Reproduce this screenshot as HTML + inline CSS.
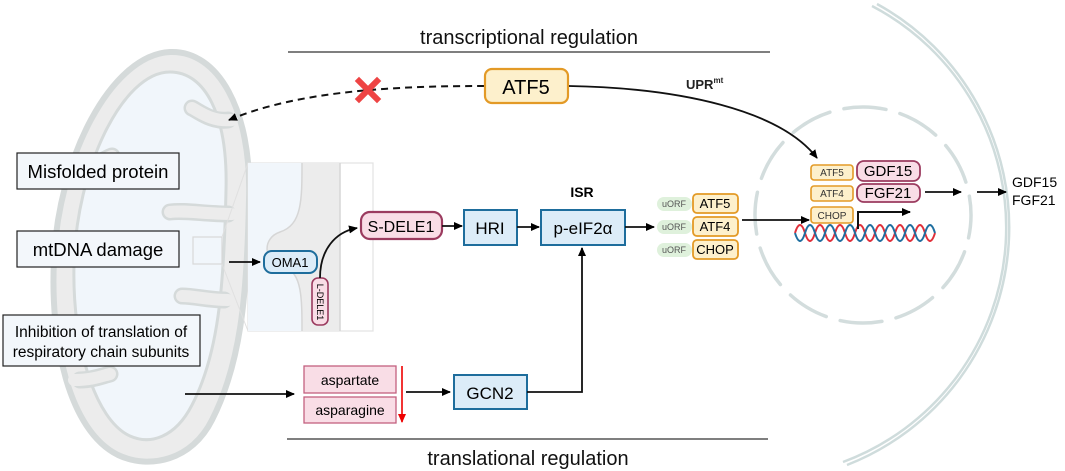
<!DOCTYPE html>
<html><head><meta charset="utf-8"><style>
html,body{margin:0;padding:0;background:#fff;}
svg{display:block;font-family:"Liberation Sans",Arial,sans-serif;}
</style></head><body>
<svg width="1065" height="471" viewBox="0 0 1065 471" xmlns="http://www.w3.org/2000/svg">
<defs>
<marker id="ah" markerWidth="10" markerHeight="10" refX="8" refY="5" orient="auto" markerUnits="userSpaceOnUse"><path d="M0,1 L9,5 L0,9 Z" fill="#000"/></marker>
<marker id="ahr" markerWidth="10" markerHeight="10" refX="8" refY="5" orient="auto" markerUnits="userSpaceOnUse"><path d="M0,1 L9,5 L0,9 Z" fill="#e00"/></marker>
</defs>

<path d="M877,4 A255,255 0 0 1 847,465" fill="none" stroke="#cfdcdc" stroke-width="2.5"/>
<path d="M872,6 A250,250 0 0 1 843,462" fill="none" stroke="#cfdcdc" stroke-width="2.5"/>
<circle cx="863" cy="215" r="108" fill="none" stroke="#d3dddd" stroke-width="3.5" stroke-dasharray="42,14.5" stroke-linecap="round" transform="rotate(-100 863 215)"/>

<!-- mitochondrion -->
<path d="M170,52 C218,50 252,110 249,200 C247,300 240,365 212,420 C192,460 150,470 118,455 C68,430 50,340 54,260 C58,160 110,55 170,52 Z" fill="#ececec" stroke="#d5dada" stroke-width="6"/>
<path d="M170,72 C205,72 228,115 226,190 C224,290 218,355 192,405 C175,438 150,445 130,436 C95,420 72,345 74,265 C76,170 122,72 170,72 Z" fill="#f1f6fb" stroke="#d5dada" stroke-width="3"/>
<g fill="none" stroke-linecap="round">
<g stroke="#d5dada" stroke-width="17">
<path d="M228,120 C212,122 200,112 192,108"/>
<path d="M228,214 C205,214 185,210 170,212"/>
<path d="M224,300 C208,300 195,296 182,296"/>
<path d="M80,380 C92,380 102,376 110,374"/>
<path d="M88,165 C98,165 106,158 112,156"/>
</g>
<g stroke="#ececec" stroke-width="12">
<path d="M232,120 C212,122 200,112 192,108"/>
<path d="M232,214 C205,214 185,210 170,212"/>
<path d="M228,300 C208,300 195,296 182,296"/>
<path d="M74,380 C92,380 102,376 110,374"/>
<path d="M82,165 C98,165 106,158 112,156"/>
</g>
</g>
<rect x="193" y="237" width="29" height="27" fill="none" stroke="#d8d8d8" stroke-width="1.2"/>
<line x1="222" y1="237" x2="248" y2="163" stroke="#e0e0e0" stroke-width="1"/>
<line x1="222" y1="264" x2="248" y2="331" stroke="#e0e0e0" stroke-width="1"/>
<!-- zoom panel -->
<rect x="248" y="163" width="125" height="168" fill="#fff" stroke="#e2e2e2" stroke-width="1.2"/>
<path d="M248,163 L302,163 C302,200 302,225 280,232 C262,238 262,262 285,268 C302,272 302,300 302,331 L248,331 Z" fill="#f1f6fb"/>
<path d="M302,163 C302,200 302,225 280,232 C262,238 262,262 285,268 C302,272 302,300 302,331 L340,331 L340,163 Z" fill="#ececec"/>
<path d="M302,163 C302,200 302,225 280,232 C262,238 262,262 285,268 C302,272 302,300 302,331" fill="none" stroke="#d6d6d6" stroke-width="1.5"/>
<line x1="340" y1="163" x2="340" y2="331" stroke="#d6d6d6" stroke-width="1.5"/>

<text x="529" y="44" font-size="20" text-anchor="middle" fill="#111">transcriptional regulation</text>
<line x1="288" y1="52" x2="770" y2="52" stroke="#333" stroke-width="1.3"/>
<line x1="287" y1="439" x2="768" y2="439" stroke="#333" stroke-width="1.3"/>
<text x="528" y="465" font-size="20" text-anchor="middle" fill="#111">translational regulation</text>

<path d="M484,86 C400,86 300,90 229,120" fill="none" stroke="#111" stroke-width="2" stroke-dasharray="7,5" marker-end="url(#ah)"/>
<g stroke="#ee4444" stroke-width="6" stroke-linecap="square"><line x1="359" y1="81" x2="377" y2="99"/><line x1="377" y1="81" x2="359" y2="99"/></g>
<rect x="485" y="69" width="83" height="34" rx="7" fill="#fdf0cc" stroke="#e39a26" stroke-width="2.2"/>
<text x="526" y="94" font-size="20" text-anchor="middle">ATF5</text>
<text x="686" y="89" font-size="13" font-weight="bold" fill="#222">UPR<tspan font-size="8" dy="-6">mt</tspan></text>
<path d="M569,86 C680,88 780,110 817,158" fill="none" stroke="#111" stroke-width="1.8" marker-end="url(#ah)"/>

<rect x="17" y="153" width="162" height="36" fill="#f3f7fb" stroke="#222" stroke-width="1.2"/>
<text x="98" y="178" font-size="18.5" text-anchor="middle">Misfolded protein</text>
<rect x="17" y="231" width="162" height="36" fill="#f3f7fb" stroke="#222" stroke-width="1.2"/>
<text x="98" y="256" font-size="18.5" text-anchor="middle">mtDNA damage</text>
<rect x="3" y="315" width="197" height="51" fill="#f3f7fb" stroke="#222" stroke-width="1.2"/>
<text x="101" y="337" font-size="15.5" text-anchor="middle">Inhibition of translation of</text>
<text x="101" y="357" font-size="15.5" text-anchor="middle">respiratory chain subunits</text>

<line x1="229" y1="262" x2="260" y2="262" stroke="#111" stroke-width="1.8" marker-end="url(#ah)"/>
<rect x="264" y="251" width="53" height="22" rx="8" fill="#dcecf8" stroke="#1e6d9c" stroke-width="2"/>
<text x="290" y="267" font-size="13" text-anchor="middle">OMA1</text>
<rect x="312" y="278" width="16" height="47" rx="6" fill="#f9dde6" stroke="#9b3b5f" stroke-width="1.6"/>
<text x="320" y="302" font-size="9" text-anchor="middle" transform="rotate(90 320 302)" dy="3">L-DELE1</text>
<path d="M320,278 C320,250 335,232 357,228" fill="none" stroke="#111" stroke-width="1.8" marker-end="url(#ah)"/>
<rect x="361" y="212" width="81" height="27" rx="9" fill="#f9dde6" stroke="#9b3b5f" stroke-width="2.2"/>
<text x="401" y="232" font-size="16" text-anchor="middle">S-DELE1</text>
<line x1="442" y1="226" x2="462" y2="226" stroke="#111" stroke-width="1.8" marker-end="url(#ah)"/>
<rect x="464" y="210" width="53" height="35" fill="#dcecf8" stroke="#1e6d9c" stroke-width="2"/>
<text x="490" y="234" font-size="17" text-anchor="middle">HRI</text>
<line x1="517" y1="227" x2="539" y2="227" stroke="#111" stroke-width="1.8" marker-end="url(#ah)"/>
<rect x="541" y="210" width="84" height="35" fill="#dcecf8" stroke="#1e6d9c" stroke-width="2"/>
<text x="583" y="234" font-size="17" text-anchor="middle">p-eIF2α</text>
<text x="582" y="197" font-size="14" font-weight="bold" text-anchor="middle">ISR</text>
<line x1="625" y1="227" x2="654" y2="227" stroke="#111" stroke-width="1.8" marker-end="url(#ah)"/>

<g font-size="9" fill="#555" text-anchor="middle">
<rect x="657" y="197" width="35" height="14" rx="7" fill="#dff1dc"/><text x="674" y="207">uORF</text>
<rect x="657" y="220" width="35" height="14" rx="7" fill="#dff1dc"/><text x="674" y="230">uORF</text>
<rect x="657" y="243" width="35" height="14" rx="7" fill="#dff1dc"/><text x="674" y="253">uORF</text>
</g>
<g font-size="13" text-anchor="middle">
<rect x="693" y="194" width="45" height="19" rx="4" fill="#fdf0cc" stroke="#e39a26" stroke-width="1.8"/><text x="715" y="208">ATF5</text>
<rect x="693" y="217" width="45" height="19" rx="4" fill="#fdf0cc" stroke="#e39a26" stroke-width="1.8"/><text x="715" y="231">ATF4</text>
<rect x="693" y="240" width="45" height="19" rx="4" fill="#fdf0cc" stroke="#e39a26" stroke-width="1.8"/><text x="715" y="254">CHOP</text>
</g>
<line x1="742" y1="220" x2="809" y2="220" stroke="#111" stroke-width="1.8" marker-end="url(#ah)"/>

<g font-size="10" text-anchor="middle" fill="#333">
<rect x="811" y="165" width="42" height="15" rx="3" fill="#fdf0cc" stroke="#e39a26" stroke-width="1.6"/><text x="832" y="176">ATF5</text>
<rect x="811" y="186" width="42" height="15" rx="3" fill="#fdf0cc" stroke="#e39a26" stroke-width="1.6"/><text x="832" y="197">ATF4</text>
<rect x="811" y="207" width="42" height="16" rx="3" fill="#fdf0cc" stroke="#e39a26" stroke-width="1.6"/><text x="832" y="219">CHOP</text>
</g>
<rect x="857" y="161" width="63" height="20" rx="7" fill="#f9dde6" stroke="#9b3b5f" stroke-width="1.8"/>
<text x="888" y="176" font-size="15" text-anchor="middle">GDF15</text>
<rect x="857" y="184" width="63" height="18" rx="7" fill="#f9dde6" stroke="#9b3b5f" stroke-width="1.8"/>
<text x="888" y="198" font-size="15" text-anchor="middle">FGF21</text>
<path d="M795,233 q5,-16 10,0 t10,0 t10,0 t10,0 t10,0 t10,0 t10,0 t10,0 t10,0 t10,0 t10,0 t10,0 t10,0 t10,0" fill="none" stroke="#e0303a" stroke-width="2"/>
<path d="M795,233 q5,16 10,0 t10,0 t10,0 t10,0 t10,0 t10,0 t10,0 t10,0 t10,0 t10,0 t10,0 t10,0 t10,0 t10,0" fill="none" stroke="#1f6fa0" stroke-width="2"/>
<path d="M858,229 L858,212 L910,212" fill="none" stroke="#111" stroke-width="2" marker-end="url(#ah)"/>
<line x1="925" y1="192" x2="961" y2="192" stroke="#111" stroke-width="1.8" marker-end="url(#ah)"/>
<line x1="977" y1="192" x2="1006" y2="192" stroke="#111" stroke-width="1.8" marker-end="url(#ah)"/>
<text x="1012" y="187" font-size="14">GDF15</text>
<text x="1012" y="205" font-size="14">FGF21</text>

<line x1="185" y1="394" x2="294" y2="394" stroke="#111" stroke-width="1.8" marker-end="url(#ah)"/>
<rect x="304" y="366" width="92" height="27" fill="#f9dde6" stroke="#c2607f" stroke-width="1.3"/>
<text x="350" y="385" font-size="14" text-anchor="middle">aspartate</text>
<rect x="304" y="397" width="92" height="26" fill="#f9dde6" stroke="#c2607f" stroke-width="1.3"/>
<text x="350" y="415" font-size="14" text-anchor="middle">asparagine</text>
<line x1="402" y1="366" x2="402" y2="422" stroke="#e00" stroke-width="1.6" marker-end="url(#ahr)"/>
<line x1="406" y1="392" x2="450" y2="392" stroke="#111" stroke-width="1.8" marker-end="url(#ah)"/>
<rect x="454" y="375" width="73" height="34" fill="#dcecf8" stroke="#1e6d9c" stroke-width="2"/>
<text x="490" y="399" font-size="17" text-anchor="middle">GCN2</text>
<path d="M527,392 L582,392 L582,248" fill="none" stroke="#111" stroke-width="1.8" marker-end="url(#ah)"/>
</svg>
</body></html>
